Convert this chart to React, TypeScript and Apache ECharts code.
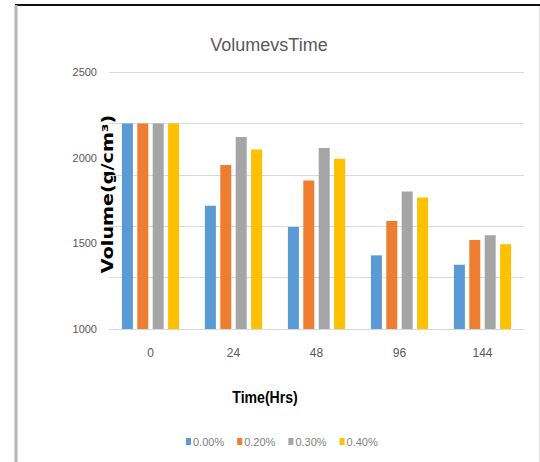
import React, { useEffect, useRef } from "react";
import * as echarts from "echarts";

const hours = ["0", "24", "48", "96", "144"];
const seriesNames = ["0.00%", "0.20%", "0.30%", "0.40%"];
const vol000 = [2200, 1720, 1595, 1430, 1375];
const vol020 = [2200, 1957, 1867, 1630, 1520];
const vol030 = [2200, 2120, 2056, 1803, 1547];
const vol040 = [2200, 2048, 1994, 1768, 1495];
const colors = ["#5b9bd5", "#ed7d31", "#a5a5a5", "#ffc000"];

const FONT = "'Liberation Sans', sans-serif";

export default function App() {
  const ref = useRef<HTMLDivElement>(null);

  useEffect(() => {
    if (!ref.current) return;
    const chart = echarts.init(ref.current, undefined, { renderer: "svg" });
    const values = [vol000, vol020, vol030, vol040];
    chart.setOption({
      animation: false,
      backgroundColor: "#ffffff",
      title: {
        text: "VolumevsTime",
        left: 264,
        top: 31,
        textAlign: "center",
        textStyle: { fontFamily: FONT, fontSize: 18, fontWeight: "normal", color: "#595959" },
      },
      grid: { left: 109, right: 16, top: 72, bottom: 133 },
      legend: {
        data: seriesNames,
        top: 431,
        left: 181,
        itemWidth: 5,
        itemHeight: 7,
        itemGap: 13,
        icon: "rect",
        textStyle: { fontFamily: FONT, fontSize: 11, color: "#7f7f7f", padding: [0, 0, 0, -3] },
      },
      xAxis: {
        type: "category",
        data: hours,
        axisLine: { lineStyle: { color: "#d9d9d9" } },
        axisTick: { show: false },
        axisLabel: { margin: 18, fontFamily: FONT, fontSize: 12, color: "#595959" },
      },
      yAxis: [
        {
          type: "value",
          min: 1000,
          max: 2500,
          interval: 300,
          axisLabel: { show: false },
          axisLine: { show: false },
          axisTick: { show: false },
          splitLine: { lineStyle: { color: "#d9d9d9" } },
        },
        {
          type: "value",
          position: "left",
          min: 1000,
          max: 2500,
          interval: 500,
          axisLabel: {
            margin: 12,
            fontFamily: FONT,
            fontSize: 11,
            color: "#595959",
            formatter: (v: number) => String(v),
          },
          axisLine: { show: false },
          axisTick: { show: false },
          splitLine: { show: false },
        },
      ],
      series: seriesNames.map((name, i) => ({
        name,
        type: "bar",
        yAxisIndex: 0,
        data: values[i],
        barWidth: 11,
        barGap: "40%",
        itemStyle: { color: colors[i] },
      })),
      graphic: [
        {
          type: "text",
          x: 108,
          y: 194,
          rotation: Math.PI / 2,
          scaleX: 1.28,
          style: {
            text: "Volume(g/cm³)",
            fontFamily: "'DejaVu Sans', sans-serif",
            fontSize: 15,
            fontWeight: "bold",
            fill: "#000000",
            align: "center",
            verticalAlign: "middle",
          },
        },
        {
          type: "text",
          x: 265,
          y: 397,
          scaleX: 0.88,
          style: {
            text: "Time(Hrs)",
            fontFamily: FONT,
            fontSize: 16,
            fontWeight: "bold",
            fill: "#000000",
            align: "center",
            verticalAlign: "middle",
          },
        },
        {
          type: "line",
          shape: { x1: 15, y1: 5, x2: 540, y2: 5 },
          style: { stroke: "#111111", lineWidth: 2 },
        },
        {
          type: "line",
          shape: { x1: 16, y1: 5, x2: 16, y2: 462 },
          style: { stroke: "#b5b5b5", lineWidth: 3 },
        },
        {
          type: "line",
          shape: { x1: 539.5, y1: 6, x2: 539.5, y2: 462 },
          style: { stroke: "#e3e3e3", lineWidth: 1 },
        },
      ],
    });
    return () => chart.dispose();
  }, []);

  return (
    <div
      ref={ref}
      style={{ position: "absolute", left: 0, top: 0, width: 540, height: 462 }}
    />
  );
}
